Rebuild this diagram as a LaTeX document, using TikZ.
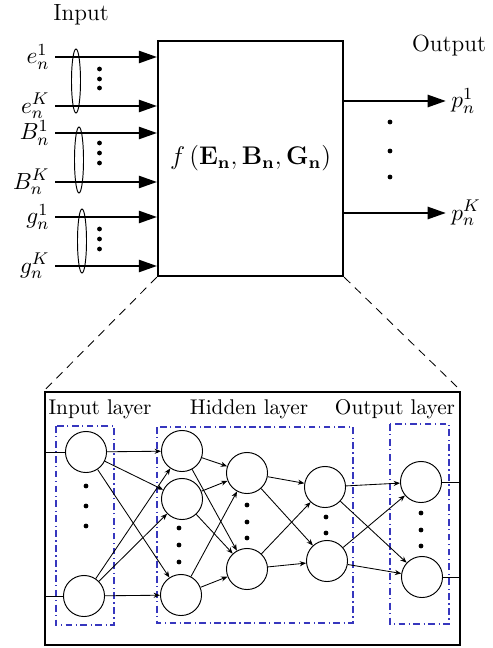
\documentclass[tikz,border=0pt]{standalone}
\usepackage{amsmath,amssymb}
\usepackage{xcolor}
\usepackage{tikz}
\usetikzlibrary{arrows.meta,calc}
\definecolor{layerblue}{RGB}{55,55,190}
\tikzset{
  func-box/.style={draw, line width=1pt, minimum width=87pt, minimum height=110.5pt,
    inner sep=0pt, font=\fontsize{11.5}{14}\selectfont},
  nn-box/.style={draw, line width=1pt, minimum width=195pt, minimum height=119pt, inner sep=0pt},
  io-label/.style={font=\fontsize{11}{13}\selectfont, inner sep=0.5pt},
  io-arrow/.style={-{Triangle[length=8.5pt, width=5.8pt]}, line width=0.75pt},
  group-ellipse/.style={line width=0.45pt},
  zoom-line/.style={dashed, dash pattern=on 4pt off 3pt, line width=0.4pt},
  layer-box/.style={draw=layerblue, line width=0.55pt,
    dash pattern=on 3.2pt off 1.6pt on 0.6pt off 1.6pt},
  layer-label/.style={font=\normalsize, inner sep=0pt},
  neuron/.style={draw, circle, line width=0.45pt, minimum size=19.3pt, inner sep=0pt},
  nn-arrow/.style={-{Stealth[length=3pt, width=2.4pt]}, line width=0.4pt},
  nn-line/.style={line width=0.4pt}
}

\begin{document}
\begin{tikzpicture}[x=0.47pt, y=-0.47pt]
\useasboundingbox (0,0) rectangle (492,648);
% upper block
\node[func-box] (fbox) at (250.5,158.5)
  {$f\left(\mathbf{E_n},\mathbf{B_n},\mathbf{G_n}\right)$};
\node[io-label] (intitle) at (81,15) {Input};
\node[io-label] (outtitle) at (449,46) {Output};
\node[io-label, anchor=east] (e1) at (51,57) {$e_n^1$};
\node[io-label, anchor=east] (eK) at (51,106) {$e_n^K$};
\node[io-label, anchor=east] (B1) at (51,133) {$B_n^1$};
\node[io-label, anchor=east] (BK) at (51,182) {$B_n^K$};
\node[io-label, anchor=east] (g1) at (51,217) {$g_n^1$};
\node[io-label, anchor=east] (gK) at (51,266) {$g_n^K$};
\node[io-label, anchor=west] (p1) at (450,101) {$p_n^1$};
\node[io-label, anchor=west] (pK) at (450,213) {$p_n^K$};
\draw[io-arrow] ([xshift=2pt]e1.east) -- (e1.east -| fbox.west);
\draw[io-arrow] ([xshift=2pt]eK.east) -- (eK.east -| fbox.west);
\draw[io-arrow] ([xshift=2pt]B1.east) -- (B1.east -| fbox.west);
\draw[io-arrow] ([xshift=2pt]BK.east) -- (BK.east -| fbox.west);
\draw[io-arrow] ([xshift=2pt]g1.east) -- (g1.east -| fbox.west);
\draw[io-arrow] ([xshift=2pt]gK.east) -- (gK.east -| fbox.west);
\draw[io-arrow] (p1.west -| fbox.east) -- ([xshift=-2pt]p1.west);
\draw[io-arrow] (pK.west -| fbox.east) -- ([xshift=-2pt]pK.west);
\draw[group-ellipse] (76,81) ellipse [x radius=4.5, y radius=32];
\draw[group-ellipse] (79,160) ellipse [x radius=4.5, y radius=33];
\draw[group-ellipse] (82,241) ellipse [x radius=4.5, y radius=32];
\foreach \y in {69,79,88,143,153,163,229,239,249}
  \fill (99.5,\y) circle [radius=2.4];
\foreach \y in {122,151,177}
  \fill (390,\y) circle [radius=2.4];
% lower block
\node[nn-box] (nnbox) at (252.5,518.5) {};
\draw[zoom-line] (fbox.south west) -- (nnbox.north west);
\draw[zoom-line] (fbox.south east) -- (nnbox.north east);
\node[layer-label] (inlayer) at (100,409) {Input layer};
\node[layer-label] (hidlayer) at (249,409) {Hidden layer};
\node[layer-label] (outlayer) at (395,409) {Output layer};
\draw[layer-box] (56,426) rectangle (114,625);
\draw[layer-box] (157,427) rectangle (353,623);
\draw[layer-box] (390,424) rectangle (449,624);
\node[neuron] (in1) at (86,452) {};
\node[neuron] (in2) at (84,596) {};
\node[neuron] (h1a) at (182,451) {};
\node[neuron] (h1b) at (182,499) {};
\node[neuron] (h1c) at (181,595) {};
\node[neuron] (h2a) at (247,473) {};
\node[neuron] (h2b) at (247,569) {};
\node[neuron] (h3a) at (325,487) {};
\node[neuron] (h3b) at (327,561) {};
\node[neuron] (out1) at (421,482) {};
\node[neuron] (out2) at (422,577) {};
\foreach \y in {486,506,526}
  \fill (86,\y) circle [radius=2.4];
\foreach \y in {528,545,562}
  \fill (179,\y) circle [radius=2.4];
\foreach \y in {505,522,538}
  \fill (247,\y) circle [radius=2.4];
\foreach \y in {517,533}
  \fill (326,\y) circle [radius=2.4];
\foreach \y in {513,530,546}
  \fill (421,\y) circle [radius=2.4];
\draw[nn-line] (in1.west) -- (in1.west -| nnbox.west);
\draw[nn-line] (in2.west) -- (in2.west -| nnbox.west);
\draw[nn-line] (out1.east) -- (out1.east -| nnbox.east);
\draw[nn-line] (out2.east) -- (out2.east -| nnbox.east);
\draw[nn-arrow] (in1) -- (h1a);
\draw[nn-arrow] (in1) -- (h1b);
\draw[nn-arrow] (in1) -- (h1c);
\draw[nn-arrow] (in2) -- (h1a);
\draw[nn-arrow] (in2) -- (h1b);
\draw[nn-arrow] (in2) -- (h1c);
\draw[nn-arrow] (h1a) -- (h2a);
\draw[nn-arrow] (h1a) -- (h2b);
\draw[nn-arrow] (h1b) -- (h2a);
\draw[nn-arrow] (h1b) -- (h2b);
\draw[nn-arrow] (h1c) -- (h2a);
\draw[nn-arrow] (h1c) -- (h2b);
\draw[nn-arrow] (h2a) -- (h3a);
\draw[nn-arrow] (h2a) -- (h3b);
\draw[nn-arrow] (h2b) -- (h3a);
\draw[nn-arrow] (h2b) -- (h3b);
\draw[nn-arrow] (h3a) -- (out1);
\draw[nn-arrow] (h3a) -- (out2);
\draw[nn-arrow] (h3b) -- (out1);
\draw[nn-arrow] (h3b) -- (out2);
\end{tikzpicture}
\end{document}
